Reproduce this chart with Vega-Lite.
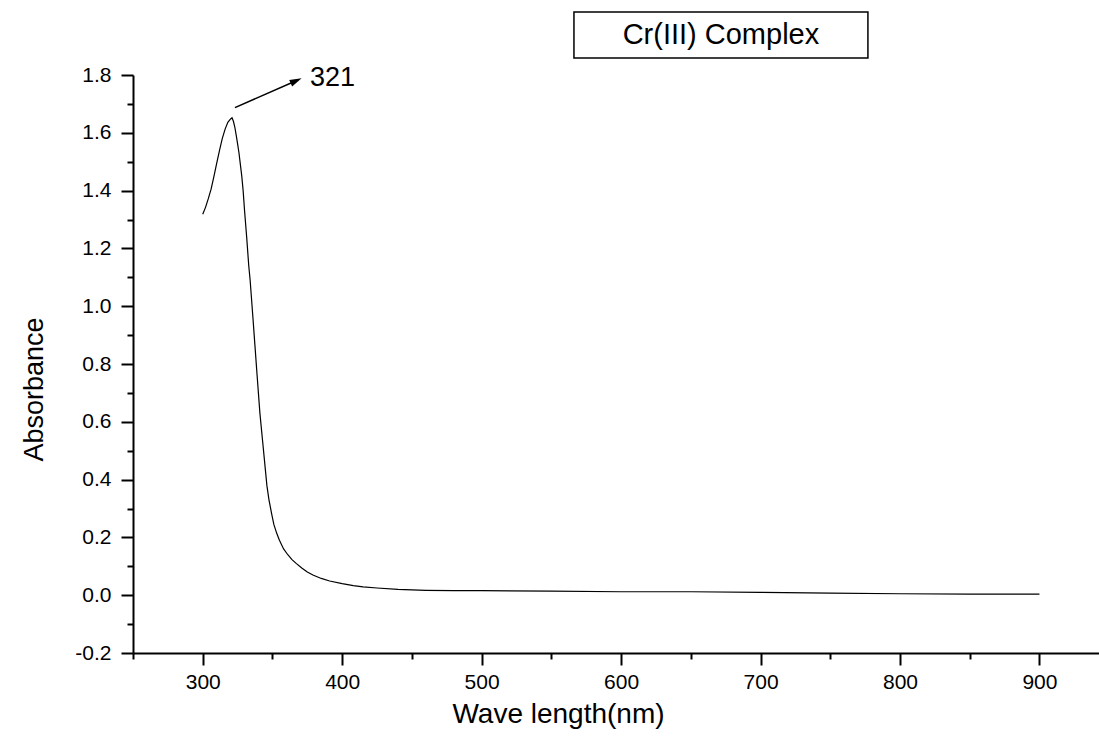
{
  "$schema": "https://vega.github.io/schema/vega-lite/v6.json",
  "autosize": "none",
  "width": 966,
  "height": 578,
  "padding": {"left": 133, "top": 75, "right": 0, "bottom": 87},
  "background": "white",
  "config": {
    "view": {"stroke": null},
    "font": "Liberation Sans",
    "axis": {"grid": false, "domainColor": "black", "tickColor": "black", "labelColor": "black", "titleColor": "black", "labelFont": "Liberation Sans", "titleFont": "Liberation Sans", "titleFontWeight": "normal"}
  },
  "datasets": {
    "spectrum": [
      {"wl": 300, "abs": 1.318}, {"wl": 302, "abs": 1.342}, {"wl": 304, "abs": 1.372}, {"wl": 306, "abs": 1.405},
      {"wl": 308, "abs": 1.448}, {"wl": 310, "abs": 1.494}, {"wl": 312, "abs": 1.538}, {"wl": 314, "abs": 1.58},
      {"wl": 316, "abs": 1.612}, {"wl": 318, "abs": 1.636}, {"wl": 319, "abs": 1.642}, {"wl": 320, "abs": 1.648},
      {"wl": 321, "abs": 1.652}, {"wl": 322, "abs": 1.64}, {"wl": 323, "abs": 1.62}, {"wl": 324, "abs": 1.592},
      {"wl": 325, "abs": 1.562}, {"wl": 326, "abs": 1.53}, {"wl": 327, "abs": 1.49}, {"wl": 328, "abs": 1.45},
      {"wl": 329, "abs": 1.398}, {"wl": 330, "abs": 1.33}, {"wl": 331.5, "abs": 1.24}, {"wl": 333, "abs": 1.14},
      {"wl": 334, "abs": 1.09}, {"wl": 336, "abs": 0.96}, {"wl": 337.5, "abs": 0.86}, {"wl": 339, "abs": 0.76},
      {"wl": 341, "abs": 0.63}, {"wl": 343, "abs": 0.53}, {"wl": 345, "abs": 0.43}, {"wl": 346, "abs": 0.38},
      {"wl": 347.5, "abs": 0.33}, {"wl": 349.5, "abs": 0.28}, {"wl": 351, "abs": 0.245}, {"wl": 353, "abs": 0.215},
      {"wl": 355, "abs": 0.19}, {"wl": 358, "abs": 0.16}, {"wl": 361, "abs": 0.14}, {"wl": 364, "abs": 0.123},
      {"wl": 367, "abs": 0.11}, {"wl": 371, "abs": 0.094}, {"wl": 375, "abs": 0.08}, {"wl": 379, "abs": 0.07},
      {"wl": 385, "abs": 0.058}, {"wl": 391, "abs": 0.049}, {"wl": 400, "abs": 0.04}, {"wl": 408, "abs": 0.033},
      {"wl": 415, "abs": 0.029}, {"wl": 425, "abs": 0.025}, {"wl": 440, "abs": 0.02}, {"wl": 460, "abs": 0.017},
      {"wl": 480, "abs": 0.016}, {"wl": 500, "abs": 0.016}, {"wl": 550, "abs": 0.014}, {"wl": 600, "abs": 0.012},
      {"wl": 650, "abs": 0.012}, {"wl": 700, "abs": 0.01}, {"wl": 750, "abs": 0.007}, {"wl": 800, "abs": 0.005},
      {"wl": 850, "abs": 0.004}, {"wl": 900, "abs": 0.004}
    ],
    "arrow": [{"x1": 323.1, "y1": 1.687, "x2": 367.0, "y2": 1.78, "label": "321", "lx": 376.9, "ly": 1.79}],
    "box": [{"x1": 566.2, "x2": 777.0, "y1": 1.859, "y2": 2.018, "xc": 671.6, "yc": 1.938, "label": "Cr(III) Complex"}]
  },
  "layer": [
    {
      "data": {"name": "spectrum"},
      "mark": {"type": "line", "color": "black", "strokeWidth": 1.2},
      "encoding": {
        "x": {"field": "wl", "type": "quantitative", "scale": {"domain": [250, 942.7], "nice": false, "zero": false},
          "axis": {"orient": "bottom", "values": [300, 400, 500, 600, 700, 800, 900], "title": "Wave length(nm)", "domainWidth": 2, "tickWidth": 2, "tickSize": 12, "labelFontSize": 21, "labelPadding": 6, "titleFontSize": 28, "titleX": 425, "titleY": 69, "titleBaseline": "alphabetic", "titleAlign": "center", "titleAnchor": null}},
        "y": {"field": "abs", "type": "quantitative", "scale": {"domain": [-0.2, 1.8], "nice": false, "zero": false},
          "axis": {"orient": "left", "values": [-0.2, 0, 0.2, 0.4, 0.6, 0.8, 1.0, 1.2, 1.4, 1.6, 1.8], "labelExpr": "datum.value < 0 ? '-' + format(-datum.value, '.1f') : format(datum.value, '.1f')", "title": "Absorbance", "domainWidth": 2, "tickWidth": 2, "tickSize": 12, "labelFontSize": 21, "labelPadding": 10, "titleFontSize": 27, "titleX": -91, "titleY": 314, "titleBaseline": "alphabetic", "titleAlign": "center", "titleAnchor": null}}
      }
    },
    {
      "data": {"name": "arrow"},
      "mark": {"type": "rule", "color": "black", "strokeWidth": 1.5},
      "encoding": {
        "x": {"field": "x1", "type": "quantitative",
          "axis": {"orient": "bottom", "values": [250, 350, 450, 550, 650, 750, 850], "labels": false, "title": null, "domain": false, "tickWidth": 2, "tickSize": 6}},
        "y": {"field": "y1", "type": "quantitative",
          "axis": {"orient": "left", "values": [-0.1, 0.1, 0.3, 0.5, 0.7, 0.9, 1.1, 1.3, 1.5, 1.7], "labels": false, "title": null, "domain": false, "tickWidth": 2, "tickSize": 6}},
        "x2": {"field": "x2"},
        "y2": {"field": "y2"}
      }
    },
    {
      "data": {"name": "arrow"},
      "mark": {"type": "point", "shape": "M0,-1L-0.6,1L0.6,1Z", "filled": true, "color": "black", "opacity": 1, "size": 144, "angle": 66},
      "encoding": {
        "x": {"field": "x2", "type": "quantitative", "axis": null},
        "y": {"field": "y2", "type": "quantitative", "axis": null}
      }
    },
    {
      "data": {"name": "arrow"},
      "mark": {"type": "text", "align": "left", "baseline": "middle", "fontSize": 27, "color": "black", "font": "Liberation Sans"},
      "encoding": {
        "x": {"field": "lx", "type": "quantitative", "axis": null},
        "y": {"field": "ly", "type": "quantitative", "axis": null},
        "text": {"field": "label"}
      }
    },
    {
      "data": {"name": "box"},
      "mark": {"type": "rect", "fill": "white", "stroke": "black", "strokeWidth": 1.5},
      "encoding": {
        "x": {"field": "x1", "type": "quantitative", "axis": null},
        "x2": {"field": "x2"},
        "y": {"field": "y1", "type": "quantitative", "axis": null},
        "y2": {"field": "y2"}
      }
    },
    {
      "data": {"name": "box"},
      "mark": {"type": "text", "align": "center", "baseline": "middle", "fontSize": 29, "color": "black", "font": "Liberation Sans"},
      "encoding": {
        "x": {"field": "xc", "type": "quantitative", "axis": null},
        "y": {"field": "yc", "type": "quantitative", "axis": null},
        "text": {"field": "label"}
      }
    }
  ],
  "resolve": {"axis": {"x": "independent", "y": "independent"}}
}
